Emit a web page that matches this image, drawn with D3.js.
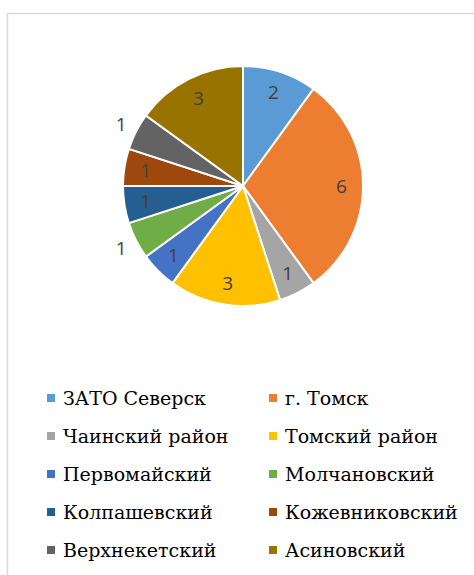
<!DOCTYPE html>
<html>
<head>
<meta charset="utf-8">
<script src="https://cdn.jsdelivr.net/npm/d3@7"></script>
<style>
  body { margin: 0; background: #fff; }
  svg { display: block; }
</style>
</head>
<body>
<svg width="474" height="575"></svg>
<script>
var categories = ['ЗАТО Северск', 'г. Томск', 'Чаинский район', 'Томский район', 'Первомайский',
    'Молчановский', 'Колпашевский', 'Кожевниковский', 'Верхнекетский', 'Асиновский'];
var values = [2, 6, 1, 3, 1, 1, 1, 1, 1, 3];
var colors = ['#5b9bd5', '#ed7d31', '#a5a5a5', '#ffc000', '#4472c4',
    '#70ad47', '#255e91', '#9e480e', '#636363', '#997300'];
// which labels sit outside the slice
var outside = [false, false, false, false, false, true, false, false, true, false];

var svg = d3.select('svg');

// chart frame
svg.append('path')
    .attr('d', 'M7.5,575 L7.5,13.5 L474,13.5')
    .style('fill', 'none')
    .style('stroke', '#d9d9d9')
    .style('stroke-width', 1.5);

var cx = 243, cy = 186, r = 120;

var pie = d3.pie().sort(null).value(function(d) { return d; });
var arcs = pie(values);
var arc = d3.arc().innerRadius(0).outerRadius(r);
var labelArc = d3.arc().innerRadius(r * 0.82).outerRadius(r * 0.82);
var outArc = d3.arc().innerRadius(r * 1.14).outerRadius(r * 1.14);

var g = svg.append('g').attr('transform', 'translate(' + cx + ',' + cy + ')');

g.selectAll('path.slice')
    .data(arcs)
    .enter().append('path')
    .attr('class', 'slice')
    .attr('d', arc)
    .style('fill', function(d, i) { return colors[i]; })
    .style('stroke', '#fff')
    .style('stroke-width', 2);

g.selectAll('text.val')
    .data(arcs)
    .enter().append('text')
    .attr('class', 'val')
    .attr('transform', function(d, i) {
        var c = outside[i] ? outArc.centroid(d) : labelArc.centroid(d);
        return 'translate(' + c[0] + ',' + c[1] + ')';
    })
    .attr('text-anchor', 'middle')
    .attr('dy', '0.35em')
    .style('font-family', '"Open Sans", sans-serif')
    .style('font-size', '19px')
    .style('fill', '#404040')
    .text(function(d) { return d.data; });

// legend
var rowY = [398, 436, 474, 512, 550];
var colX = [47, 269];

var legend = svg.selectAll('g.leg')
    .data(categories)
    .enter().append('g')
    .attr('class', 'leg')
    .attr('transform', function(d, i) {
        return 'translate(' + colX[i % 2] + ',' + rowY[Math.floor(i / 2)] + ')';
    });

legend.append('rect')
    .attr('x', 0)
    .attr('y', -4)
    .attr('width', 8)
    .attr('height', 8)
    .style('fill', function(d, i) { return colors[i]; });

legend.append('text')
    .attr('x', 16)
    .attr('y', 0)
    .attr('dy', '0.35em')
    .style('font-family', '"DejaVu Serif", serif')
    .style('font-size', '19px')
    .style('fill', '#000')
    .text(function(d) { return d; });
</script>
</body>
</html>
